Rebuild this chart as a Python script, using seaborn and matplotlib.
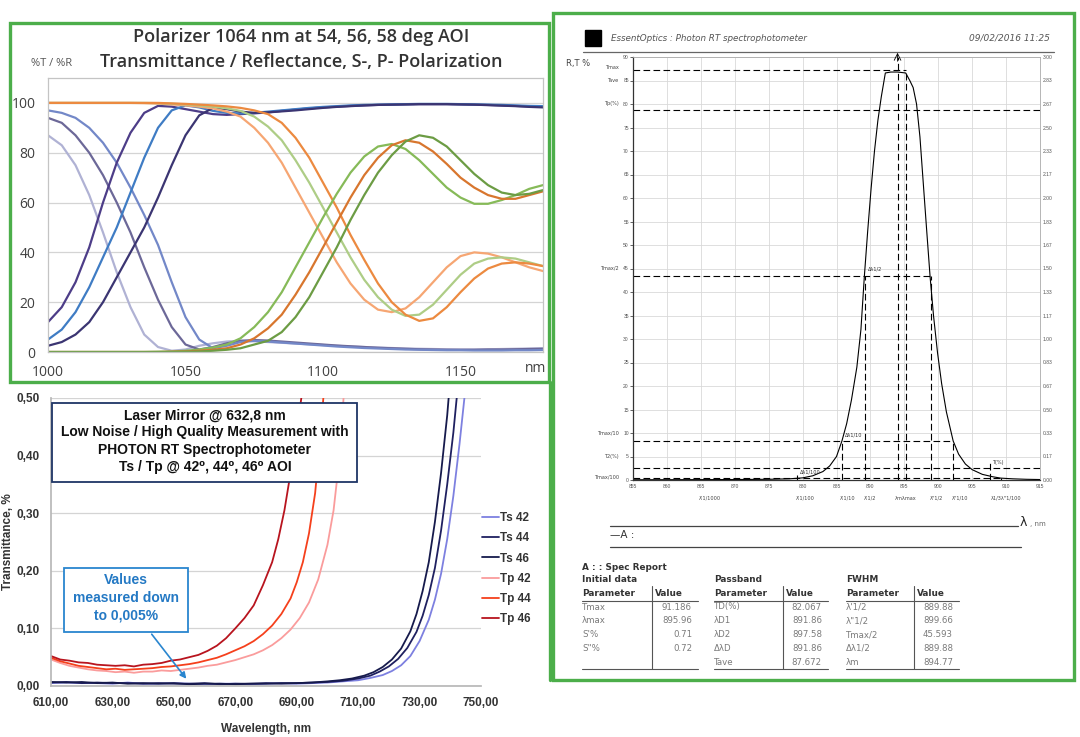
import matplotlib
matplotlib.use("Agg")
import matplotlib.pyplot as plt
import matplotlib.ticker as mticker
from matplotlib.patches import Rectangle
import pandas as pd
import seaborn as sns

W, H = 1080, 737

# ---------------- polarizer panel (top left) ----------------
pol_wl = [1000, 1005, 1010, 1015, 1020, 1025, 1030, 1035, 1040, 1045, 1050, 1055,
          1060, 1065, 1070, 1075, 1080, 1085, 1090, 1095, 1100, 1105, 1110, 1115,
          1120, 1125, 1130, 1135, 1140, 1145, 1150, 1155, 1160, 1165, 1170, 1175, 1180]
ts_a = [12, 18, 28, 42, 60, 76, 88, 96, 98.8, 98.5, 97.5, 96.5, 95.5, 95.2, 95.5, 95.8,
        96.2, 96.8, 97.3, 97.8, 98.2, 98.5, 98.8, 99, 99.2, 99.3, 99.4, 99.5, 99.5, 99.5,
        99.4, 99.3, 99.2, 99, 98.8, 98.6, 98.4]
ts_b = [5, 9, 16, 26, 38, 50, 64, 78, 90, 97, 99, 98.2, 96.8, 96, 95.8, 96, 96.5, 97,
        97.5, 98, 98.4, 98.7, 99, 99.2, 99.3, 99.4, 99.5, 99.6, 99.6, 99.6, 99.5, 99.4,
        99.3, 99.2, 99, 98.8, 98.7]
ts_c = [2.5, 4, 7, 12, 20, 30, 40, 50, 62, 75, 87, 95, 98, 97.5, 96.5, 96, 96.2, 96.6,
        97, 97.5, 98, 98.4, 98.7, 99, 99.2, 99.3, 99.4, 99.5, 99.5, 99.5, 99.4, 99.3,
        99.1, 98.9, 98.7, 98.4, 98.2]
rs_a = [87, 83, 75, 63, 48, 32, 18, 7, 2, 0.5, 1, 2.5, 3.5, 4.2, 4.5, 4.3, 4, 3.7, 3.4,
        3.1, 2.8, 2.5, 2.2, 2, 1.8, 1.6, 1.4, 1.3, 1.2, 1.1, 1, 1, 1.1, 1.2, 1.3, 1.4, 1.5]
rs_b = [94, 92, 87, 80, 71, 60, 48, 34, 21, 10, 3, 1, 2, 3.5, 4.5, 4.8, 4.6, 4.2, 3.8,
        3.4, 3, 2.6, 2.3, 2, 1.7, 1.5, 1.3, 1.1, 1, 0.9, 0.9, 0.9, 1, 1, 1.1, 1.2, 1.3]
rs_c = [97, 96, 94, 90, 84, 76, 66, 55, 43, 28, 14, 5, 1.5, 2.5, 4, 4.5, 4.2, 3.8, 3.4,
        3, 2.6, 2.2, 1.9, 1.6, 1.4, 1.2, 1, 0.9, 0.8, 0.7, 0.7, 0.6, 0.6, 0.6, 0.7, 0.7, 0.8]
tp_1 = [100, 100, 100, 100, 100, 100, 100, 99.9, 99.7, 99.4, 99, 98.5, 97.8, 96.5, 94.5,
        90, 84, 76, 66, 56, 46, 36, 27.5, 21, 17, 16, 17.5, 22, 28, 34, 38.5, 40, 39.5,
        38, 36, 34, 32.5]
tp_2 = [100, 100, 100, 100, 100, 100, 100, 100, 99.9, 99.7, 99.4, 99, 98.5, 97.8, 96.8,
        94.5, 90.5, 85, 77, 68, 58, 48, 38, 29, 22, 17, 14.5, 15, 19, 25, 31, 35.5, 37.5,
        38, 37.5, 36, 34.5]
tp_3 = [100, 100, 100, 100, 100, 100, 100, 100, 100, 99.8, 99.6, 99.3, 99, 98.6, 98, 97,
        95.5, 92, 86, 78, 68, 58, 47, 37, 27.5, 20, 15, 12.5, 13.5, 18, 24, 29.5, 33.5,
        35.5, 36, 35.5, 34.5]
rp_1 = [0, 0, 0, 0, 0, 0, 0, 0, 0.1, 0.2, 0.5, 1, 1.8, 3, 5.5, 10, 16, 24, 34, 44, 54,
        63.5, 72, 78.5, 82.5, 83.5, 81.5, 77, 71.5, 66, 62, 59.5, 59.5, 61, 63, 65.5, 67]
rp_2 = [0, 0, 0, 0, 0, 0, 0, 0, 0, 0.1, 0.2, 0.5, 0.9, 1.5, 3, 5.5, 9.5, 15, 23, 32, 42,
        52, 62, 71, 78, 83, 85, 84, 80.5, 75.5, 70, 66, 63, 61.5, 61.5, 63, 64.5]
rp_3 = [0, 0, 0, 0, 0, 0, 0, 0, 0, 0, 0.1, 0.2, 0.5, 0.9, 1.5, 3, 4.5, 8, 14, 22, 32, 42,
        53, 63, 72, 79, 84.5, 87, 86, 82.5, 77, 71.5, 67, 64, 63, 63.5, 65]
pol_series = {"Rs a": rs_a, "Rs b": rs_b, "Rs c": rs_c, "Ts a": ts_a, "Ts b": ts_b,
              "Ts c": ts_c, "Tp 1": tp_1, "Tp 2": tp_2, "Tp 3": tp_3, "Rp 1": rp_1,
              "Rp 2": rp_2, "Rp 3": rp_3}
pol_colors = {"Rs a": "#b0b2d4", "Rs b": "#6c6898", "Rs c": "#7388c8",
              "Ts a": "#4d3d88", "Ts b": "#3f7cc4", "Ts c": "#3b3572",
              "Tp 1": "#f6a673", "Tp 2": "#aecd86", "Tp 3": "#ec8a40",
              "Rp 1": "#86ba58", "Rp 2": "#d8762e", "Rp 3": "#6c9c44"}
pol_xticks = [1000, 1050, 1100, 1150]
pol_yticks = [0, 20, 40, 60, 80, 100]

# ---------------- laser mirror panel (bottom left) ----------------
ts42_wl = [610, 615, 620, 625, 630, 635, 640, 645, 650, 655, 660, 665, 670, 675, 680, 685,
           690, 695, 700, 705, 710, 714, 718, 721, 724, 727, 730, 733, 735, 737, 739, 741,
           743, 745, 747]
ts42 = [0.005, 0.006, 0.005, 0.005, 0.004, 0.006, 0.004, 0.004, 0.005, 0.004, 0.003,
        0.004, 0.004, 0.003, 0.004, 0.005, 0.004, 0.005, 0.006, 0.008, 0.010, 0.014,
        0.019, 0.026, 0.036, 0.052, 0.078, 0.115, 0.150, 0.195, 0.255, 0.330, 0.420,
        0.520, 0.640]
ts44_wl = [610, 615, 620, 625, 630, 635, 640, 645, 650, 655, 660, 665, 670, 675, 680, 685,
           690, 695, 700, 705, 710, 714, 717, 720, 723, 726, 729, 731, 733, 735, 737, 739,
           741, 743, 744]
ts44 = [0.006, 0.007, 0.005, 0.006, 0.005, 0.005, 0.004, 0.005, 0.004, 0.004, 0.005,
        0.003, 0.004, 0.004, 0.005, 0.004, 0.005, 0.006, 0.007, 0.009, 0.013, 0.018,
        0.025, 0.034, 0.047, 0.066, 0.094, 0.122, 0.158, 0.205, 0.270, 0.350, 0.440,
        0.550, 0.620]
ts46_wl = [610, 615, 620, 625, 630, 635, 640, 645, 650, 655, 660, 665, 670, 675, 680, 685,
           690, 695, 700, 704, 708, 712, 715, 718, 721, 724, 727, 729, 731, 733, 735, 737,
           739, 741]
ts46 = [0.007, 0.006, 0.007, 0.005, 0.006, 0.004, 0.005, 0.004, 0.005, 0.003, 0.004,
        0.004, 0.003, 0.004, 0.004, 0.005, 0.005, 0.006, 0.008, 0.010, 0.013, 0.018,
        0.024, 0.033, 0.046, 0.065, 0.095, 0.125, 0.165, 0.215, 0.285, 0.370, 0.470, 0.600]
tp42_wl = [610, 613, 616, 619, 622, 625, 628, 631, 634, 637, 640, 643, 646, 649, 652, 655,
           658, 661, 664, 667, 670, 673, 676, 679, 682, 685, 688, 691, 694, 697, 700, 702,
           704, 706]
tp42 = [0.046, 0.040, 0.035, 0.032, 0.029, 0.027, 0.026, 0.024, 0.025, 0.023, 0.025,
        0.025, 0.027, 0.026, 0.028, 0.030, 0.032, 0.035, 0.037, 0.041, 0.045, 0.050,
        0.055, 0.062, 0.071, 0.083, 0.098, 0.118, 0.145, 0.185, 0.245, 0.305, 0.400, 0.560]
tp44_wl = [610, 613, 616, 619, 622, 625, 628, 631, 634, 637, 640, 643, 646, 649, 652, 655,
           658, 661, 664, 667, 670, 673, 676, 679, 682, 685, 688, 690, 692, 694, 696, 698,
           700]
tp44 = [0.049, 0.043, 0.039, 0.035, 0.033, 0.031, 0.029, 0.030, 0.028, 0.029, 0.030,
        0.031, 0.033, 0.034, 0.036, 0.038, 0.041, 0.045, 0.049, 0.055, 0.062, 0.069,
        0.078, 0.090, 0.105, 0.125, 0.152, 0.180, 0.215, 0.265, 0.335, 0.450, 0.600]
tp46_wl = [610, 613, 616, 619, 622, 625, 628, 631, 634, 637, 640, 643, 646, 649, 652, 655,
           658, 661, 664, 667, 670, 673, 676, 679, 682, 684, 686, 688, 690, 691.5, 693]
tp46 = [0.052, 0.046, 0.044, 0.041, 0.040, 0.037, 0.036, 0.035, 0.036, 0.034, 0.037,
        0.038, 0.040, 0.044, 0.046, 0.050, 0.054, 0.061, 0.070, 0.083, 0.100, 0.118,
        0.140, 0.175, 0.215, 0.255, 0.305, 0.370, 0.440, 0.500, 0.600]
mirror_series = [("Ts 42", ts42_wl, ts42), ("Ts 44", ts44_wl, ts44), ("Ts 46", ts46_wl, ts46),
                 ("Tp 42", tp42_wl, tp42), ("Tp 44", tp44_wl, tp44), ("Tp 46", tp46_wl, tp46)]
mirror_colors = {"Ts 42": "#7d80e0", "Ts 44": "#1f2060", "Ts 46": "#161a4c",
                 "Tp 42": "#fa9c9c", "Tp 44": "#f5401c", "Tp 46": "#b8141e"}
mirror_xticks = [610, 630, 650, 670, 690, 710, 730, 750]
mirror_yticks = [0, 0.1, 0.2, 0.3, 0.4, 0.5]
mirror_box_lines = ["Laser Mirror @ 632,8 nm", "Low Noise / High Quality Measurement with",
                    "PHOTON RT Spectrophotometer", "Ts / Tp @ 42\u2070, 44\u2070, 46\u2070 AOI"]
values_box_lines = ["Values", "measured down", "to 0,005%"]

# ---------------- spectrophotometer panel (right) ----------------
rt_wl = [855, 860, 865, 870, 875, 878, 880, 881.5, 883, 884, 885, 885.8, 886.5, 887.2, 888,
         888.6, 889.1, 889.6, 890.1, 890.6, 891.1, 891.6, 892.2, 893, 894, 895.2, 895.8,
         896.3, 896.8, 897.3, 897.8, 898.3, 898.8, 899.3, 899.9, 900.5, 901.2, 902.2, 903,
         904, 905, 906.5, 908, 909.2, 911, 913, 915]
rt_t = [0.05, 0.06, 0.08, 0.1, 0.15, 0.25, 0.45, 0.9, 1.8, 3.0, 5.0, 8.3, 12, 17, 24, 32,
        43.2, 53, 62, 70, 76.5, 81.5, 86.6, 86.8, 86.8, 86.6, 85, 83.5, 80, 73, 63, 53,
        43.2, 35, 27, 20.5, 14.5, 8.3, 5.5, 3.4, 2.2, 1.2, 0.7, 0.4, 0.25, 0.15, 0.1]
rt_xticks = [855, 860, 865, 870, 875, 880, 885, 890, 895, 900, 905, 910, 915]
rt_yticks = [0, 5, 10, 15, 20, 25, 30, 35, 40, 45, 50, 55, 60, 65, 70, 75, 80, 85, 90]
rt_right_labels = ["0.00", "0.17", "0.33", "0.50", "0.67", "0.83", "1.00", "1.17", "1.33",
                   "1.50", "1.67", "1.83", "2.00", "2.17", "2.33", "2.50", "2.67", "2.83",
                   "3.00"]
# horizontal marker lines: level, right end (None = full width), name
rt_levels = [(87.2, 895.2, "Tmax"), (78.7, None, "Tp(%)"), (43.5, 898.9, "Tmax/2"),
             (8.4, 902.2, "Tmax/10"), (2.6, None, "T2(%)"), (0.35, 909.2, "Tmax/100")]
rt_level_names = [(87.8, "Tmax"), (85, "Tave"), (80, "Tp(%)"), (45, "Tmax/2"),
                  (10, "Tmax/10"), (5, "T2(%)"), (0.6, "Tmax/100")]
# vertical marker lines: position, top
rt_marks = [(879.2, 1.0), (885.8, 8.4), (889.2, 43.5), (894.0, 90), (895.2, 87.2),
            (898.9, 43.5), (902.2, 8.4), (907.7, 4.0), (909.2, 0.35)]
rt_mark_labels = [(866.3, "\u03bb'1/1000"), (880.4, "\u03bb'1/100"), (886.7, "\u03bb'1/10"),
                  (889.9, "\u03bb'1/2"), (895.2, "\u03bbm\u03bbmax"), (899.7, "\u03bb\"1/2"),
                  (903.2, "\u03bb\"1/10"), (910.0, "\u03bb1/3\u03bb\"1/100")]
rt_notes = [(889.6, 44.6, "\u0394\u03bb1/2"), (886.2, 9.3, "\u0394\u03bb1/10"),
            (879.6, 1.3, "\u0394\u03bb1/100"), (908.0, 3.4, "T(%)")]
init_params = ["Tmax", "\u03bbmax", "S'%", "S\"%"]
init_values = ["91.186", "895.96", "0.71", "0.72"]
pass_params = ["TD(%)", "\u03bbD1", "\u03bbD2", "\u0394\u03bbD", "Tave"]
pass_values = ["82.067", "891.86", "897.58", "891.86", "87.672"]
fwhm_params = ["\u03bb'1/2", "\u03bb\"1/2", "Tmax/2", "\u0394\u03bb1/2", "\u03bbm"]
fwhm_values = ["889.88", "899.66", "45.593", "889.88", "894.77"]

GREEN = "#4cae4a"
CALIBRI = ["Open Sans", "DejaVu Sans"]
ARIAL = ["Liberation Sans", "DejaVu Sans"]
VERDANA = ["DejaVu Sans"]


def px_rect(left, top, right, bottom):
    """Convert pixel box (top-left origin) to figure fraction rect."""
    return [left / W, 1 - bottom / H, (right - left) / W, (bottom - top) / H]


def polarizer_panel(fig):
    """Top-left chart: polarizer T/R curves."""
    ax = fig.add_axes(px_rect(48, 78, 543, 352))
    frames = [pd.DataFrame({"wl": pol_wl, "val": v, "series": k})
              for k, v in pol_series.items()]
    df = pd.concat(frames, ignore_index=True)
    sns.lineplot(data=df, x="wl", y="val", hue="series", palette=pol_colors,
                 legend=False, estimator=None, lw=1.6, ax=ax)
    ax.set_xlim(1000, 1180)
    ax.set_ylim(0, 110)
    ax.set_xticks(pol_xticks)
    ax.set_yticks(pol_yticks)
    ax.set_xlabel("")
    ax.set_ylabel("")
    ax.yaxis.grid(True, color="#d4d4d4", lw=0.9)
    ax.set_axisbelow(True)
    for s in ax.spines.values():
        s.set_color("#c4c4c4")
        s.set_linewidth(0.9)
    ax.tick_params(axis="both", length=3, color="#c4c4c4", labelcolor="#404040",
                   labelsize=10, pad=6)
    for lab in ax.get_xticklabels() + ax.get_yticklabels():
        lab.set_family(CALIBRI)


def mirror_panel(fig):
    """Bottom-left chart: laser mirror Ts / Tp transmittance."""
    ax = fig.add_axes(px_rect(51, 398, 481, 686))
    frames = [pd.DataFrame({"wl": x, "val": y, "series": k}) for k, x, y in mirror_series]
    df = pd.concat(frames, ignore_index=True)
    sns.lineplot(data=df, x="wl", y="val", hue="series", palette=mirror_colors,
                 hue_order=[k for k, _, _ in mirror_series], estimator=None, lw=1.3, ax=ax)
    ax.set_xlim(610, 750)
    ax.set_ylim(0, 0.5)
    ax.set_xticks(mirror_xticks)
    ax.set_yticks(mirror_yticks)
    fmt = mticker.FuncFormatter(lambda v, p: f"{v:.2f}".replace(".", ","))
    ax.xaxis.set_major_formatter(fmt)
    ax.yaxis.set_major_formatter(fmt)
    ax.yaxis.grid(True, color="#d4d4d4", lw=0.9)
    ax.set_axisbelow(True)
    ax.spines["top"].set_visible(False)
    ax.spines["right"].set_visible(False)
    ax.spines["left"].set_color("#b8b8b8")
    ax.spines["bottom"].set_color("#b8b8b8")
    ax.tick_params(axis="x", length=4, color="#b8b8b8", labelsize=8.5, pad=4,
                   labelcolor="#333333")
    ax.tick_params(axis="y", length=0, labelsize=8.5, pad=8, labelcolor="#333333")
    for lab in ax.get_xticklabels() + ax.get_yticklabels():
        lab.set_family(ARIAL)
        lab.set_fontweight("bold")
    ax.set_xlabel("Wavelength, nm", family=ARIAL, fontweight="bold", fontsize=8.5,
                  color="#333333", labelpad=10)
    ax.set_ylabel("Transmittance, %", family=ARIAL, fontweight="bold", fontsize=8.5,
                  color="#333333", labelpad=2)
    sns.move_legend(ax, "upper left", bbox_to_anchor=(482 / W, 1 - 512 / H),
                    bbox_transform=fig.transFigure, frameon=False, title=None,
                    handlelength=1.4, handletextpad=0.15, labelspacing=0.7,
                    borderpad=0, borderaxespad=0,
                    prop={"family": ARIAL, "weight": "bold", "size": 8.5})
    for t in ax.get_legend().get_texts():
        t.set_color("#333333")
    return ax


def spectro_panel(fig):
    """Right chart: Photon RT spectrophotometer screenshot style."""
    ax = fig.add_axes(px_rect(633, 57, 1040, 480))
    sns.lineplot(x=rt_wl, y=rt_t, color="black", lw=0.8, ax=ax, estimator=None)
    ax.set_xlim(855, 915)
    ax.set_ylim(0, 90)
    ax.set_xticks(rt_xticks)
    ax.set_yticks(rt_yticks)
    ax.grid(True, color="#d9d9d9", lw=0.6)
    ax.set_axisbelow(True)
    for side in ["left", "bottom"]:
        ax.spines[side].set_color("#333333")
        ax.spines[side].set_linewidth(0.9)
    for side in ["top", "right"]:
        ax.spines[side].set_color("#aaaaaa")
        ax.spines[side].set_linewidth(0.6)
    ax.tick_params(axis="both", length=2, width=0.5, labelsize=3.6, pad=1,
                   labelcolor="#555555")
    dash = dict(color="black", lw=0.8, ls=(0, (6, 3)))
    for level, right, _ in rt_levels:
        ax.plot([855, right if right else 915], [level, level], **dash)
    for pos, top in rt_marks:
        ax.plot([pos, pos], [0, top], **dash)
    ax.annotate("", xy=(894.0, 91.5), xytext=(894.0, 88.5), annotation_clip=False,
                arrowprops=dict(arrowstyle="->", lw=0.6, color="black"))
    for x, y, t in rt_notes:
        ax.text(x, y, t, fontsize=3.6, color="#333333", family=VERDANA)
    for y, name in rt_level_names:
        ax.text(-0.035, y, name, fontsize=3.6, color="#444444", ha="right", va="center",
                transform=ax.get_yaxis_transform(), family=VERDANA)
    for x, name in rt_mark_labels:
        ax.text(x, -3.9, name, fontsize=3.6, color="#444444", ha="center", va="center",
                family=VERDANA)
    ax.set_xlabel("")
    ax.set_ylabel("")
    ax2 = ax.twinx()
    ax2.set_ylim(0, 90)
    ax2.set_yticks(rt_yticks)
    ax2.set_yticklabels(rt_right_labels)
    ax2.tick_params(axis="y", length=0, labelsize=3.6, pad=2, labelcolor="#555555")
    ax2.grid(False)
    for s in ax2.spines.values():
        s.set_visible(False)


def draw_canvas(fig, ax_m):
    """Borders, titles, text boxes and the spec report table."""
    cv = fig.add_axes([0, 0, 1, 1], zorder=10)
    cv.set_xlim(0, W)
    cv.set_ylim(H, 0)
    cv.axis("off")
    cv.patch.set_alpha(0)

    # green panel frames
    cv.add_patch(Rectangle((10, 23), 539, 359, fill=False, ec=GREEN, lw=2.4))
    cv.plot([550, 550], [382, 680], color=GREEN, lw=2.4)
    cv.add_patch(Rectangle((553, 13), 521, 667, fill=False, ec=GREEN, lw=2.4))

    # polarizer titles
    cv.text(301, 37, "Polarizer 1064 nm at 54, 56, 58 deg AOI", ha="center",
            va="center", fontsize=13, fontweight="semibold", color="#333333",
            family=CALIBRI)
    cv.text(301, 62, "Transmittance / Reflectance, S-, P- Polarization", ha="center",
            va="center", fontsize=13, fontweight="semibold", color="#333333",
            family=CALIBRI)
    cv.text(52, 63, "%T / %R", ha="center", va="center", fontsize=8, color="#555555",
            family=CALIBRI)
    cv.text(546, 368, "nm", ha="right", va="center", fontsize=10, color="#404040",
            family=CALIBRI)

    # laser mirror text boxes
    cv.add_patch(Rectangle((52, 403), 305, 79, fc="white", ec="#1f3566", lw=1.3))
    for i, line in enumerate(mirror_box_lines):
        cv.text(205, 415 + 17.3 * i, line, ha="center", va="center", fontsize=10,
                fontweight="bold", color="#111111", family=ARIAL)
    cv.add_patch(Rectangle((64, 568), 124, 64, fc="white", ec="#2a86cf", lw=1.3))
    for i, line in enumerate(values_box_lines):
        cv.text(126, 580 + 17.5 * i, line, ha="center", va="center", fontsize=10,
                fontweight="bold", color="#2479c4", family=ARIAL)
    cv.annotate("", xy=(188, 681), xytext=(150, 632),
                arrowprops=dict(arrowstyle="-|>", color="#2a86cf", lw=1.2,
                                mutation_scale=9))

    # spectrophotometer header
    cv.add_patch(Rectangle((585, 30), 16, 16, fc="black", ec="black"))
    cv.text(611, 38, "EssentOptics : Photon RT spectrophotometer", va="center",
            fontsize=6.3, style="italic", color="#555555", family=VERDANA)
    cv.text(1050, 38, "09/02/2016 11:25", va="center", ha="right", fontsize=6.5,
            style="italic", color="#555555", family=VERDANA)
    cv.plot([583, 1054], [52, 52], color="#666666", lw=0.9)
    cv.text(578, 63, "R,T %", ha="center", va="center", fontsize=6, color="#444444",
            family=VERDANA)
    cv.plot([610, 1018], [526, 526], color="#444444", lw=0.9)
    cv.text(1020, 522, "\u03bb", ha="left", va="center", fontsize=9, color="#222222",
            family=VERDANA)
    cv.text(1030, 524, ", nm", ha="left", va="center", fontsize=5, color="#666666",
            family=VERDANA)
    cv.text(610, 535, "\u2014A :", ha="left", va="center", fontsize=7.5, color="#333333",
            family=VERDANA)
    cv.plot([610, 1021], [547, 547], color="#444444", lw=0.9)

    # spec report table
    bold = dict(fontsize=6.4, fontweight="bold", color="#333333", va="center",
                family=VERDANA)
    plain = dict(fontsize=6.2, color="#7a7a7a", va="center", family=VERDANA)
    cv.text(582, 567, "A : : Spec Report", **bold)
    groups = [(582, 692, 652, "Initial data", init_params, init_values),
              (714, 822, 783, "Passband", pass_params, pass_values),
              (846, 953, 914, "FWHM", fwhm_params, fwhm_values)]
    for x0, xv, xsep, title, params, values in groups:
        cv.text(x0, 580, title, **bold)
        cv.text(x0, 593, "Parameter", **bold)
        cv.text(xsep + 3, 593, "Value", **bold)
        cv.plot([x0, xv + 6], [601, 601], color="#555555", lw=0.8)
        cv.plot([x0, xv + 6], [669, 669], color="#555555", lw=0.8)
        cv.plot([xsep, xsep], [586, 669], color="#555555", lw=0.8)
        for i, (p, v) in enumerate(zip(params, values)):
            y = 607 + 13.8 * i
            cv.text(x0, y, p, **plain)
            cv.text(xv, y, v, ha="right", **plain)


def main():
    """Build the composite figure and save it."""
    sns.set_theme(style="white")
    plt.rcParams["font.family"] = ARIAL
    fig = plt.figure(figsize=(W / 100, H / 100), dpi=100)
    fig.patch.set_facecolor("white")
    polarizer_panel(fig)
    ax_m = mirror_panel(fig)
    spectro_panel(fig)
    draw_canvas(fig, ax_m)
    fig.savefig("out.png", dpi=100, facecolor="white")


if __name__ == "__main__":
    main()
